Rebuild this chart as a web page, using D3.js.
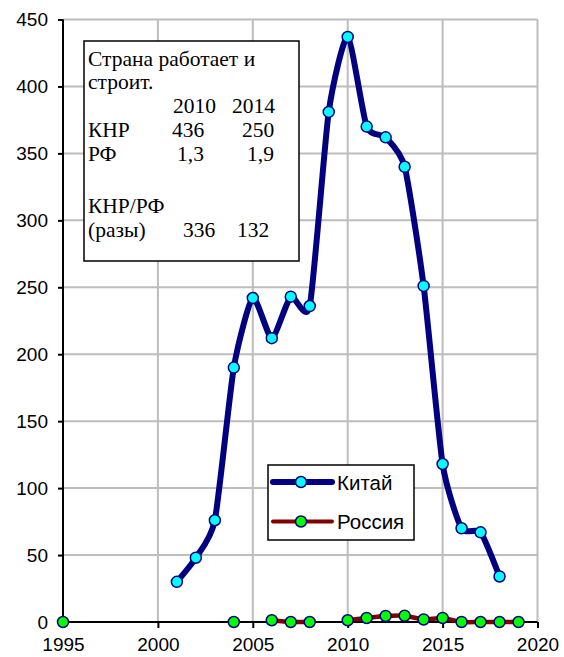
<!DOCTYPE html>
<html><head><meta charset="utf-8">
<script src="https://cdn.jsdelivr.net/npm/d3@7"></script>
<style>body{margin:0;background:#fff}</style>
</head><body>
<svg id="c" width="564" height="657"></svg>
<script>
const years = [1995,1996,1997,1998,1999,2000,2001,2002,2003,2004,2005,2006,2007,2008,2009,2010,2011,2012,2013,2014,2015,2016,2017,2018,2019];
const china = [null,null,null,null,null,null,30,48,76,190,242,212,243,236,381,437,370,362,340,251,118,70,67,34,null];
const russia = [0,null,null,null,null,null,null,null,null,0,null,1.3,0,0,null,1.3,3,4.5,4.7,1.9,3,0,0,0,0];
const xTicks = [1995,2000,2005,2010,2015,2020];
const yTicks = [0,50,100,150,200,250,300,350,400,450];
const legendLabels = ["Китай","Россия"];
const noteLines = [
  {t:"Страна работает и", c:[]},
  {t:"строит.", c:[]},
  {t:"", c:[["2010",173],["2014",232]]},
  {t:"КНР", c:[["436",172],["250",242]]},
  {t:"РФ", c:[["1,3",177],["1,9",247]]},
  {t:"", c:[]},
  {t:"КНР/РФ", c:[]},
  {t:"(разы)", c:[["336",183],["132",237]]}
];
const noteBase = [65.5, 89, 113, 137, 161, 187, 213, 237];

const svg = d3.select("#c");
const L=63, R=537.5, T=19.5, B=622;
const x = d3.scaleLinear().domain([1995,2020]).range([L,R]);
const y = d3.scaleLinear().domain([0,450]).range([B,T]);

// grid
svg.append("g").selectAll("line").data(yTicks.filter(d=>d>0)).join("line")
  .attr("x1",L).attr("x2",R).attr("y1",d=>y(d)).attr("y2",d=>y(d))
  .attr("stroke","#bdbdbd").attr("stroke-width",2);
svg.append("g").selectAll("line").data(xTicks.filter(d=>d>1995)).join("line")
  .attr("y1",T).attr("y2",B).attr("x1",d=>x(d)).attr("x2",d=>x(d))
  .attr("stroke","#bdbdbd").attr("stroke-width",2);

// axes
const ya = svg.append("g").attr("transform",`translate(${L},0)`)
  .call(d3.axisLeft(y).tickValues(yTicks).tickSize(5).tickPadding(10));
const xa = svg.append("g").attr("transform",`translate(0,${B})`)
  .call(d3.axisBottom(x).tickValues(xTicks).tickFormat(d3.format("d")).tickSize(6).tickPadding(10));
[ya,xa].forEach(a=>{
  a.selectAll("path,line").attr("stroke","#000").attr("stroke-width",2);
  a.selectAll("text").attr("font-family","Liberation Sans, Arial, sans-serif").attr("font-size",19).attr("fill","#000");
});
ya.select(".domain").attr("d",`M0,${T}V${B}`);
xa.select(".domain").attr("d",`M${L},0H${R}`);

// lines
const pts = arr => years.map((yr,i)=>({yr, v:arr[i]}));
const line = d3.line().defined(d=>d.v!==null).x(d=>x(d.yr)).y(d=>y(d.v)).curve(d3.curveCardinal.tension(0.4));
svg.append("path").datum(pts(russia)).attr("d",line).attr("fill","none").attr("stroke","#800000").attr("stroke-width",4.5);
svg.append("path").datum(pts(china)).attr("d",line).attr("fill","none").attr("stroke","#000080").attr("stroke-width",6).attr("stroke-linejoin","round");

svg.append("g").selectAll("circle").data(pts(russia).filter(d=>d.v!==null)).join("circle")
  .attr("cx",d=>x(d.yr)).attr("cy",d=>y(d.v)).attr("r",5.5).attr("fill","#00ff00").attr("stroke","#000080").attr("stroke-width",1.5);
svg.append("g").selectAll("circle").data(pts(china).filter(d=>d.v!==null)).join("circle")
  .attr("cx",d=>x(d.yr)).attr("cy",d=>y(d.v)).attr("r",5.5).attr("fill","#00ffff").attr("stroke","#000080").attr("stroke-width",1.5);

// legend
const lg = svg.append("g");
lg.append("rect").attr("x",268).attr("y",465).attr("width",146).attr("height",75).attr("fill","#fff").attr("stroke","#000").attr("stroke-width",1.5);
const lstyle = [{c:"#000080",w:6,f:"#00ffff"},{c:"#800000",w:4,f:"#00ff00"}];
legendLabels.forEach((lab,i)=>{
  const yy = 482 + i*39.5;
  lg.append("line").attr("x1",273).attr("x2",332).attr("y1",yy).attr("y2",yy).attr("stroke",lstyle[i].c).attr("stroke-width",lstyle[i].w).attr("stroke-linecap","round");
  lg.append("circle").attr("cx",301).attr("cy",yy).attr("r",5.5).attr("fill",lstyle[i].f).attr("stroke","#000080").attr("stroke-width",1.5);
  lg.append("text").attr("x",337).attr("y",yy+7.5).text(lab).attr("font-family","Liberation Sans, Arial, sans-serif").attr("font-size",20.5).attr("fill","#000");
});

// note box
const nb = svg.append("g");
nb.append("rect").attr("x",84).attr("y",41).attr("width",215).attr("height",220).attr("fill","#fff").attr("stroke","#000").attr("stroke-width",1.5);
noteLines.forEach((ln,i)=>{
  const by = noteBase[i];
  if(ln.t) nb.append("text").attr("x",88).attr("y",by).text(ln.t);
  ln.c.forEach(([t,xx])=>nb.append("text").attr("x",xx).attr("y",by).text(t));
});
nb.selectAll("text").attr("font-family","Liberation Serif, Times New Roman, serif").attr("font-size",21.5).attr("fill","#000");
</script>
</body></html>
